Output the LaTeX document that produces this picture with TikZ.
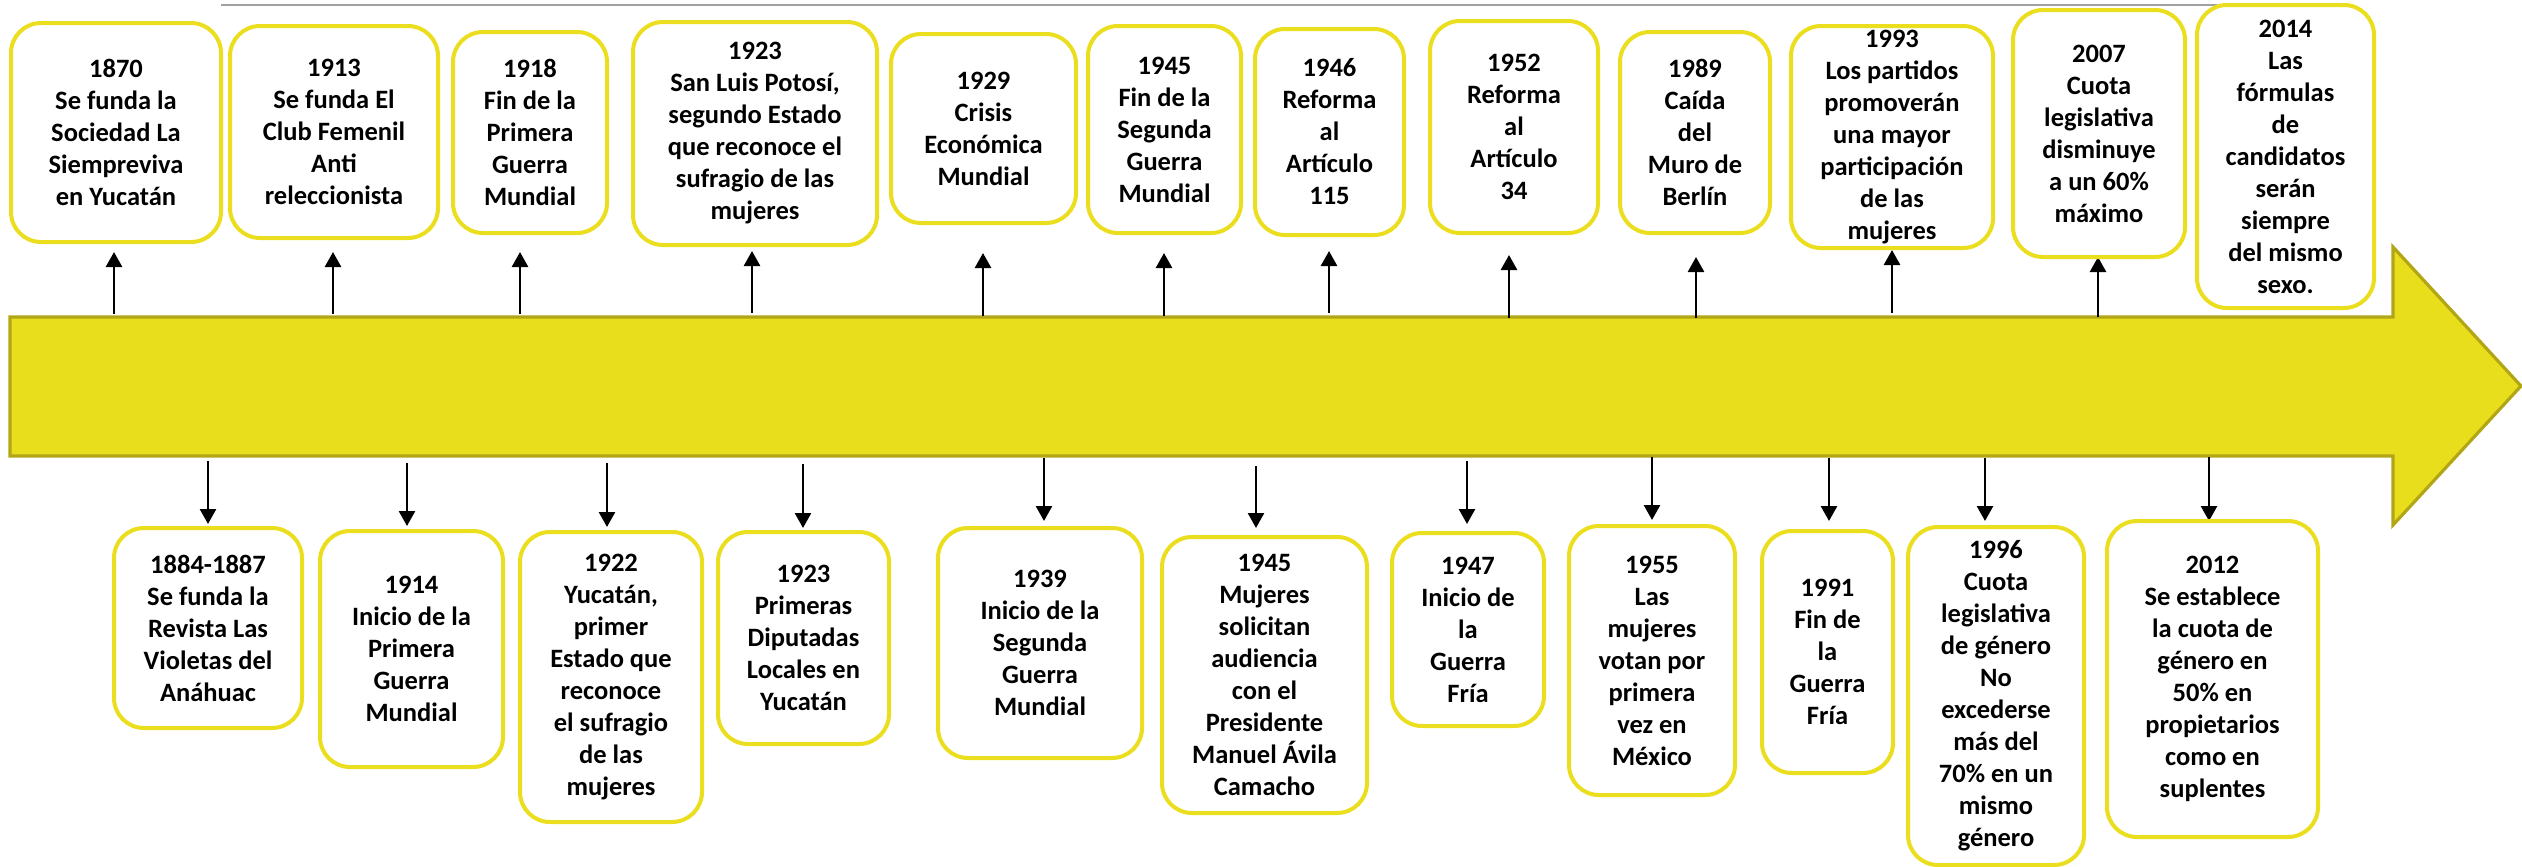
\documentclass[tikz,border=0pt]{standalone}
\usepackage{fontspec}
\setmainfont{Carlito}
\usetikzlibrary{arrows.meta}
\definecolor{ybox}{RGB}{234,222,30}
\definecolor{yfill}{RGB}{232,222,28}
\definecolor{yedge}{RGB}{178,166,22}
\definecolor{gline}{RGB}{160,160,160}
\tikzset{
  evbox/.style={draw=ybox, line width=2pt, rounded corners=15pt, fill=white, align=center, inner sep=0pt,
    font=\fontsize{13.25}{16}\selectfont\bfseries},
  conn/.style={line width=1.3pt, -{Triangle[width=8pt,length=7.5pt]}},
  tlbody/.style={fill=yfill, draw=yedge, line width=1.6pt, line join=miter},
}
\newcommand\evb[6]{\node[evbox, minimum width={(#4-#2)*0.5pt}, minimum height={(#5-#3)*0.5pt}] (#1) at ({(#2+#4)/2},{(#3+#5)/2}) {#6};}
\newcommand\arr[4]{\coordinate (#1s) at (#2,#3); \coordinate (#1e) at (#2,#4); \draw[conn] (#1s) -- (#1e);}
\begin{document}
\begin{tikzpicture}[x=0.5pt,y=-0.5pt]
\useasboundingbox (0,0) rectangle (2522,867);
% gray line at top
\coordinate (g1) at (221,5);
\coordinate (g2) at (2217,5);
\draw[gline, line width=1.2pt] (g1) -- (g2);
% timeline arrow
\draw[tlbody] (10,317) -- (2393,317) -- (2393,247) -- (2521,386) -- (2393,525) -- (2393,456) -- (10,456) -- cycle;
% up arrows
\arr{a1}{114}{314}{252}
\arr{a2}{333}{314}{252}
\arr{a3}{520}{314}{252}
\arr{a4}{752}{313}{251}
\arr{a5}{983}{316}{253}
\arr{a6}{1164}{316}{253}
\arr{a7}{1329}{313}{251}
\arr{a8}{1509}{318}{255}
\arr{a9}{1696}{318}{257}
\arr{a10}{1892}{313}{250}
\arr{a11}{2098}{317}{257}
% down arrows
\arr{b1}{208}{461}{524}
\arr{b2}{407}{463}{526}
\arr{b3}{607}{463}{527}
\arr{b4}{803}{464}{528}
\arr{b5}{1044}{458}{521}
\arr{b6}{1256}{466}{528}
\arr{b7}{1467}{461}{524}
\arr{b8}{1652}{457}{520}
\arr{b9}{1829}{458}{521}
\arr{b10}{1985}{458}{521}
\arr{b11}{2209}{457}{521}
% top boxes
\evb{T1}{11}{23}{221}{242}{1870\\Se funda la\\Sociedad La\\Siempreviva\\en Yucatán}
\evb{T2}{230}{26}{438}{238}{1913\\Se funda El\\Club Femenil\\Anti\\releccionista}
\evb{T3}{453}{32}{607}{233}{1918\\Fin de la\\Primera\\Guerra\\Mundial}
\evb{T4}{633}{22}{877}{245}{1923\\San Luis Potosí,\\segundo Estado\\que reconoce el\\sufragio de las\\mujeres}
\evb{T5}{891}{34}{1076}{223}{1929\\Crisis\\Económica\\Mundial}
\evb{T6}{1088}{26}{1241}{233}{1945\\Fin de la\\Segunda\\Guerra\\Mundial}
\evb{T7}{1255}{29}{1404}{235}{1946\\Reforma\\al\\Artículo\\115}
\evb{T8}{1430}{21}{1598}{233}{1952\\Reforma\\al\\Artículo\\34}
\evb{T9}{1620}{32}{1770}{233}{1989\\Caída\\del\\Muro de\\Berlín}
\evb{T10}{1791}{26}{1993}{248}{1993\\Los partidos\\promoverán\\una mayor\\participación\\de las\\mujeres}
\evb{T11}{2013}{10}{2185}{257}{2007\\Cuota\\legislativa\\disminuye\\a un 60\%\\máximo}
\evb{T12}{2197}{5}{2374}{308}{2014\\Las\\fórmulas\\de\\candidatos\\serán\\siempre\\del mismo\\sexo.}
% bottom boxes
\evb{B1}{114}{528}{302}{728}{1884-1887\\Se funda la\\Revista Las\\Violetas del\\Anáhuac}
\evb{B2}{320}{531}{503}{767}{1914\\Inicio de la\\Primera\\Guerra\\Mundial}
\evb{B3}{520}{532}{702}{822}{1922\\Yucatán,\\primer\\Estado que\\reconoce\\el sufragio\\de las\\mujeres}
\evb{B4}{718}{532}{889}{744}{1923\\Primeras\\Diputadas\\Locales en\\Yucatán}
\evb{B5}{938}{528}{1142}{758}{1939\\Inicio de la\\Segunda\\Guerra\\Mundial}
\evb{B6}{1162}{537}{1367}{813}{1945\\Mujeres\\solicitan\\audiencia\\con el\\Presidente\\Manuel Ávila\\Camacho}
\evb{B7}{1392}{533}{1544}{726}{1947\\Inicio de\\la\\Guerra\\Fría}
\evb{B8}{1569}{526}{1735}{795}{1955\\Las\\mujeres\\votan por\\primera\\vez en\\México}
\evb{B9}{1762}{531}{1893}{773}{1991\\Fin de\\la\\Guerra\\Fría}
\evb{B10}{1908}{527}{2084}{865}{1996\\Cuota\\legislativa\\de género\\No\\excederse\\más del\\70\% en un\\mismo\\género}
\evb{B11}{2107}{521}{2318}{837}{2012\\Se establece\\la cuota de\\género en\\50\% en\\propietarios\\como en\\suplentes}
\end{tikzpicture}
\end{document}
